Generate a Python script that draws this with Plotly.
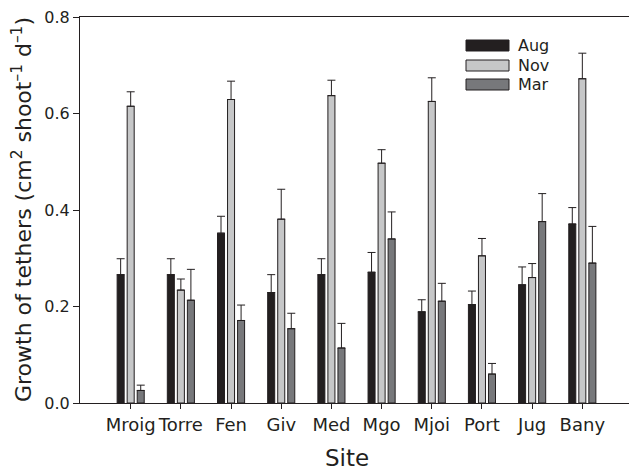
import plotly.graph_objects as go

sites = ["Mroig", "Torre", "Fen", "Giv", "Med", "Mgo", "Mjoi", "Port", "Jug", "Bany"]
series_names = ["Aug", "Nov", "Mar"]
aug = [0.266, 0.266, 0.352, 0.229, 0.266, 0.271, 0.189, 0.204, 0.245, 0.371]
aug_err = [0.033, 0.033, 0.035, 0.037, 0.033, 0.041, 0.025, 0.028, 0.037, 0.034]
nov = [0.615, 0.234, 0.629, 0.381, 0.637, 0.497, 0.625, 0.305, 0.260, 0.672]
nov_err = [0.030, 0.023, 0.038, 0.062, 0.032, 0.028, 0.049, 0.036, 0.029, 0.053]
mar = [0.026, 0.213, 0.171, 0.154, 0.114, 0.340, 0.211, 0.060, 0.376, 0.290]
mar_err = [0.011, 0.064, 0.032, 0.032, 0.051, 0.056, 0.037, 0.022, 0.058, 0.076]
y_ticks = [0.0, 0.2, 0.4, 0.6, 0.8]

colors = ["#231f20", "#c6c7c8", "#77787b"]
FONT = "DejaVu Sans"
W, H = 629, 472
L, R, T, B = 80, 0, 17, 69

fig = go.Figure()
for name, vals, errs, col in zip(series_names, [aug, nov, mar], [aug_err, nov_err, mar_err], colors):
    fig.add_trace(go.Bar(
        x=list(range(len(sites))), y=vals, name=name,
        marker=dict(color=col, line=dict(color="#231f20", width=1)),
        error_y=dict(type="data", symmetric=False, array=errs, arrayminus=[0] * len(errs),
                     color="#231f20", thickness=1, width=4),
        showlegend=False,
    ))

# custom legend (wide boxes like the reference)
pw = W - L - R
ph = H - T - B
def px_x(p):
    return (p - L) / pw
def px_y(p):
    return 1 - (p - T) / ph
leg_tops = [40, 60, 79]
for name, col, top in zip(series_names, colors, leg_tops):
    fig.add_shape(type="rect", xref="paper", yref="paper",
                  x0=px_x(466), x1=px_x(509), y0=px_y(top + 11), y1=px_y(top),
                  fillcolor=col, line=dict(color="#231f20", width=1))
    fig.add_annotation(text=name, xref="paper", yref="paper", x=px_x(516), y=px_y(top + 5.5),
                       xanchor="left", yanchor="middle", showarrow=False,
                       font=dict(family=FONT, size=16, color="#231f20"))

# axis titles
fig.add_annotation(text="Site", xref="paper", yref="paper", x=px_x(347), y=px_y(458),
                   xanchor="center", yanchor="middle", showarrow=False,
                   font=dict(family=FONT, size=23, color="#231f20"))
fig.add_annotation(text="Growth of tethers (cm<sup>2</sup> shoot<sup>–1</sup> d<sup>–1</sup>)",
                   xref="paper", yref="paper", x=px_x(22), y=0.5, textangle=-90,
                   xanchor="center", yanchor="middle", showarrow=False,
                   font=dict(family=FONT, size=22, color="#231f20"))

fig.update_layout(
    width=W, height=H,
    margin=dict(l=L, r=R, t=T, b=B, pad=0),
    paper_bgcolor="white", plot_bgcolor="white",
    barmode="group", bargap=0.4, bargroupgap=0.3,
    font=dict(family=FONT, color="#231f20"),
    xaxis=dict(
        range=[-1.01, 9.93], tickmode="array", tickvals=list(range(len(sites))), ticktext=sites,
        showline=True, linecolor="#231f20", linewidth=1.2, mirror=True,
        ticks="outside", ticklen=5, tickcolor="#231f20", tickwidth=1, tickangle=0,
        showgrid=False, zeroline=False, tickfont=dict(family=FONT, size=18, color="#231f20"),
    ),
    yaxis=dict(
        range=[0, 0.8], tickmode="array", tickvals=y_ticks, ticktext=[f"{v:.1f}" for v in y_ticks],
        showline=True, linecolor="#231f20", linewidth=1.2, mirror=False,
        ticks="outside", ticklen=6, tickcolor="#231f20", tickwidth=1,
        showgrid=False, zeroline=False, tickfont=dict(family=FONT, size=16, color="#231f20"),
    ),
)

fig.write_html("out.html")
